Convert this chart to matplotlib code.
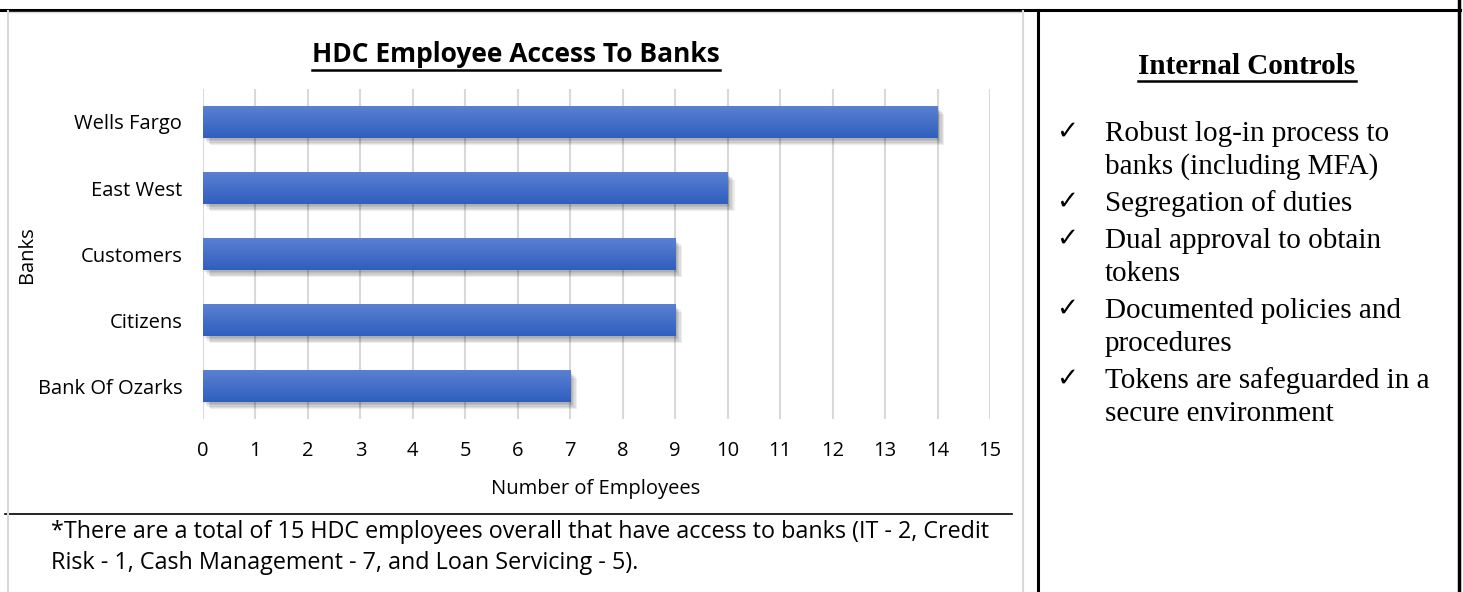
import numpy as np
import matplotlib
matplotlib.use("Agg")
import matplotlib.pyplot as plt
from matplotlib import patheffects as pe
from matplotlib.lines import Line2D
from matplotlib.colors import LinearSegmentedColormap

# 데이터
banks = ["Wells Fargo", "East West", "Customers", "Citizens", "Bank Of Ozarks"]
employees = [14, 10, 9, 9, 7]
x_ticks = list(range(0, 16))

title = "HDC Employee Access To Banks"
x_label = "Number of Employees"
y_label = "Banks"
note_lines = [
    "*There are a total of 15 HDC employees overall that have access to banks (IT - 2, Credit",
    "Risk - 1, Cash Management - 7, and Loan Servicing - 5).",
]
controls_title = "Internal Controls"
controls = [
    ["Robust log-in process to", "banks (including MFA)"],
    ["Segregation of duties"],
    ["Dual approval to obtain", "tokens"],
    ["Documented policies and", "procedures"],
    ["Tokens are safeguarded in a", "secure environment"],
]

W, H = 1463, 592
fig = plt.figure(figsize=(W / 100, H / 100), dpi=100)
SANS = "Open Sans"
SERIF = "Liberation Serif"


def px(x, y):
    # 픽셀 좌표 -> figure 좌표
    return x / W, 1 - y / H


# 차트 영역
ax = fig.add_axes([203 / W, 1 - 419 / H, (990 - 203) / W, (419 - 89) / H])
ypos = np.arange(len(banks))
bars = ax.barh(ypos, employees, height=0.48, color="#4472c4", zorder=3)

# 흐릿한 그림자 흉내
shadow = [pe.SimplePatchShadow(offset=(1 + k, -1.5 - k), shadow_rgbFace="#000000", alpha=0.07)
          for k in range(5)]
grad = LinearSegmentedColormap.from_list("g", ["#5b80d2", "#2f5fbf"])
for b in bars:
    b.set_path_effects(shadow + [pe.Normal()])
    x0, y0 = b.get_x(), b.get_y()
    im = ax.imshow(np.linspace(0, 1, 64).reshape(-1, 1), cmap=grad, aspect="auto",
                   extent=[x0, x0 + b.get_width(), y0 + b.get_height(), y0],
                   origin="upper", zorder=4)
    im.set_clip_path(b)

ax.set_xlim(0, 15)
ax.set_ylim(len(banks) - 0.5, -0.5)
ax.set_xticks(x_ticks)
ax.set_yticks(ypos)
ax.set_yticklabels(banks, family=SANS, fontsize=14.5)
ax.set_xticklabels([str(t) for t in x_ticks], family=SANS, fontsize=14.5)
ax.tick_params(axis="x", length=0, pad=16)
ax.tick_params(axis="y", length=0, pad=15)
ax.grid(axis="x", color="#d9d9d9", linewidth=1.5, zorder=0)
for s in ax.spines.values():
    s.set_visible(False)
ax.set_aspect("auto")

fig.text(*px(596, 489), x_label, family=SANS, fontsize=14.5, ha="center", va="center")
fig.text(*px(27, 255), y_label, family=SANS, fontsize=14.5, ha="center", va="center", rotation=90)
t_title = fig.text(*px(516, 55), title, family=SANS, fontsize=19, fontweight="bold",
                   ha="center", va="center")

for i, line in enumerate(note_lines):
    fig.text(*px(51, 532 + i * 31), line, family=SANS, fontsize=16.8, ha="left", va="center")

# 오른쪽 패널
t_ctrl = fig.text(*px(1247, 66), controls_title, family=SERIF, fontsize=21, fontweight="bold",
                  ha="center", va="center")
y = 134
for item in controls:
    fig.text(*px(1067, y - 2), "\u2713", family="DejaVu Sans", fontsize=19, fontweight="bold",
             ha="center", va="center")
    for line in item:
        fig.text(*px(1105, y), line, family=SERIF, fontsize=21, ha="left", va="center")
        y += 33
    y += 4

# 테두리 선
lines = [
    ((0, 1460), (10, 10), "black", 2.2),
    ((1038, 1038), (10, 592), "black", 2.2),
    ((1459, 1459), (0, 592), "black", 2.5),
    ((5, 1012), (514, 514), "black", 1.2),
    ((8, 8), (11, 592), "#d9d9d9", 1.5),
    ((1023, 1023), (11, 592), "#d9d9d9", 1.5),
    ((8, 1023), (11.5, 11.5), "#d9d9d9", 1.0),
]
for xs, ys, c, lw in lines:
    fig.add_artist(Line2D([v / W for v in xs], [1 - v / H for v in ys], color=c, lw=lw))

# 밑줄
fig.canvas.draw()
r = fig.canvas.get_renderer()
for t, lw in [(t_title, 1.8), (t_ctrl, 1.8)]:
    bb = t.get_window_extent(r)
    yy = bb.y0 - 1
    fig.add_artist(Line2D([bb.x0 / W, bb.x1 / W], [yy / H, yy / H], color="black", lw=lw))

fig.savefig("out.png", dpi=100)
